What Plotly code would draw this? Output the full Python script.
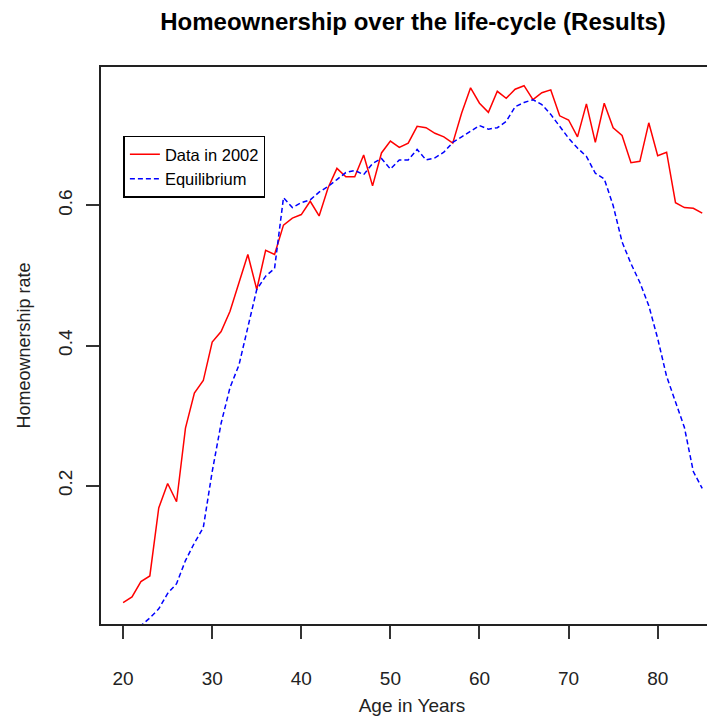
import plotly.graph_objects as go

# homeownership rate by age
ages = list(range(20, 86))

data_2002 = [
    0.033, 0.041, 0.063, 0.071, 0.168, 0.203, 0.177, 0.282, 0.332, 0.350,
    0.405, 0.420, 0.449, 0.488, 0.530, 0.480, 0.536, 0.530, 0.572, 0.582,
    0.587, 0.606, 0.585, 0.625, 0.653, 0.641, 0.641, 0.672, 0.628, 0.675,
    0.692, 0.683, 0.689, 0.713, 0.711, 0.703, 0.698, 0.689, 0.732, 0.768,
    0.746, 0.733, 0.763, 0.753, 0.766, 0.771, 0.751, 0.761, 0.765, 0.728,
    0.722, 0.698, 0.745, 0.690, 0.746, 0.711, 0.700, 0.661, 0.663, 0.718,
    0.671, 0.676, 0.604, 0.597, 0.596, 0.589,
]

equilibrium = [
    0.000, 0.000, 0.000, 0.011, 0.024, 0.046, 0.060, 0.093, 0.118, 0.140,
    0.220, 0.289, 0.340, 0.372, 0.427, 0.480, 0.499, 0.510, 0.611, 0.597,
    0.604, 0.608, 0.619, 0.627, 0.637, 0.647, 0.650, 0.644, 0.660, 0.667,
    0.652, 0.665, 0.665, 0.680, 0.665, 0.668, 0.676, 0.690, 0.698, 0.706,
    0.714, 0.709, 0.711, 0.720, 0.741, 0.747, 0.751, 0.744, 0.730, 0.713,
    0.696, 0.682, 0.670, 0.646, 0.638, 0.600, 0.548, 0.517, 0.490, 0.457,
    0.410, 0.356, 0.320, 0.283, 0.220, 0.196,
]

y_ticks = [0.2, 0.4, 0.6]
x_ticks = [20, 30, 40, 50, 60, 70, 80]

FONT = "Liberation Sans, Arial, sans-serif"

# the page puts the figure 8px in from the top-left corner, so offsets
# below are 8px smaller than where things sit in the reference
fig = go.Figure()

fig.add_trace(go.Scatter(
    x=ages, y=data_2002,
    mode="lines",
    name="Data in 2002",
    line=dict(color="red", width=1.5),
))

fig.add_trace(go.Scatter(
    x=ages, y=equilibrium,
    mode="lines",
    name="Equilibrium",
    line=dict(color="blue", width=1.5, dash="5px,3px"),
))

fig.update_layout(
    width=715,
    height=720,
    margin=dict(l=93, r=0, t=59, b=104, autoexpand=False),
    plot_bgcolor="white",
    paper_bgcolor="white",
    font=dict(family=FONT, color="black"),
    showlegend=True,
    title=dict(
        text="<b>Homeownership over the life-cycle (Results)</b>",
        font=dict(size=24, family=FONT, color="black"),
        xref="container", x=405 / 715, xanchor="center",
        yref="container", y=1 - 14 / 720, yanchor="middle",
    ),
    legend=dict(
        x=0.036, y=0.877, xanchor="left", yanchor="top",
        bgcolor="white",
        bordercolor="black",
        borderwidth=1.5,
        font=dict(size=16.5, family=FONT, color="black"),
        tracegroupgap=0,
        entrywidth=130,
    ),
)

fig.update_xaxes(
    range=[17.52, 87.33],
    tickvals=x_ticks,
    automargin=False,
    ticks="outside", ticklen=13, tickcolor="#333", tickwidth=1.5,
    showline=True, mirror=True, linecolor="#222", linewidth=1.5,
    showgrid=False, zeroline=False,
    tickfont=dict(size=19, family=FONT, color="#222"),
    ticklabelstandoff=23,
    title=dict(text="Age in Years", font=dict(size=19, family=FONT, color="#222"),
               standoff=11),
)

fig.update_yaxes(
    range=[0.0024, 0.7977],
    tickvals=y_ticks,
    tickformat=".1f",
    tickangle=-90,
    automargin=False,
    ticks="outside", ticklen=13, tickcolor="#333", tickwidth=1.5,
    showline=True, mirror=False, linecolor="#222", linewidth=1.5,
    showgrid=False, zeroline=False,
    tickfont=dict(size=19, family=FONT, color="#222"),
    ticklabelstandoff=7,
    title=dict(text="Homeownership rate", font=dict(size=18, family=FONT, color="#222"),
               standoff=19),
)

fig.write_html("out.html")
